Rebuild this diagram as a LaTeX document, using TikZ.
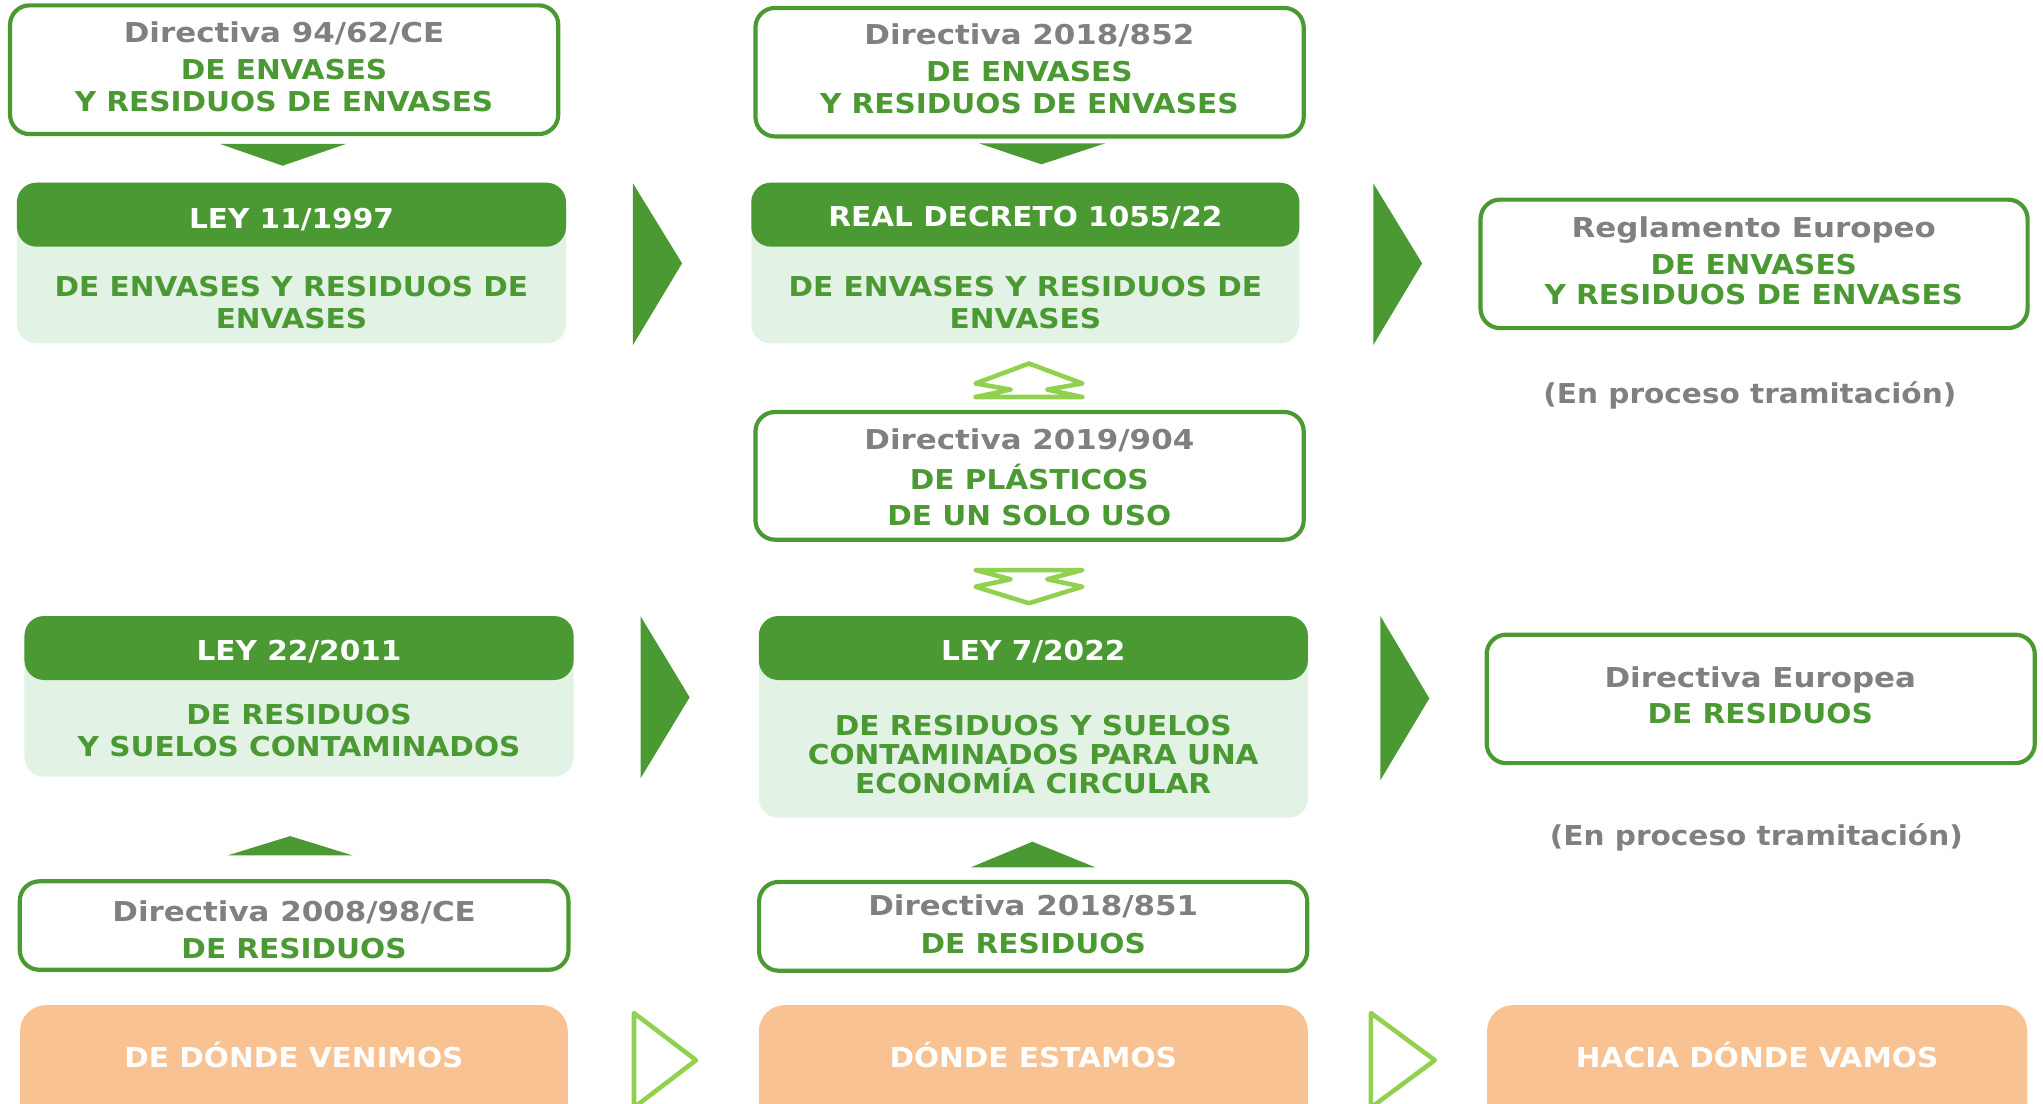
\documentclass[tikz,border=0pt]{standalone}
\usepackage{fontspec}
\newfontfamily\vf{DejaVu Sans Bold}[FakeStretch=1.08]
\newfontfamily\gf{DejaVu Sans Bold}[FakeStretch=1.13]
\definecolor{dgreen}{RGB}{74,153,50}
\definecolor{lbody}{RGB}{226,242,228}
\definecolor{lgreen}{RGB}{146,208,80}
\definecolor{tgray}{RGB}{128,128,128}
\definecolor{obox}{RGB}{249,194,147}
\begin{document}
\begin{tikzpicture}[x=1pt,y=-1pt,
  wbox/.style={draw=dgreen, line width=3.2pt, rounded corners=15pt, fill=white, inner sep=0pt, outer sep=0pt},
  bodybox/.style={fill=lbody, rounded corners=15pt, inner sep=0pt, outer sep=0pt},
  headbox/.style={fill=dgreen, rounded corners=15pt, inner sep=0pt, outer sep=0pt},
  orbox/.style={fill=obox, rounded corners=20pt, inner sep=0pt, outer sep=0pt},
  txt/.style={font=\vf\fontsize{21}{24}\selectfont, anchor=base, inner sep=0pt},
  gt/.style={txt, font=\gf\fontsize{21}{24}\selectfont, text=tgray},
  pt/.style={txt, text=tgray},
  vt/.style={txt, text=dgreen},
  wt/.style={txt, text=white},
  solidtri/.style={fill=dgreen},
  hollow/.style={draw=lgreen, line width=3.5pt, line join=round}
]
\useasboundingbox (0,0) rectangle (1568,846.6);
\clip (0,0) rectangle (1568,846.6);

% ---------- white bordered boxes ----------
\node[wbox, minimum width=420.8pt, minimum height=98.8pt] (A) at (218.1,53.5) {};
\node[wbox, minimum width=420.8pt, minimum height=98.6pt] (B) at (790.2,55.4) {};
\node[wbox, minimum width=419.9pt, minimum height=98.6pt] (R) at (1346.25,202.5) {};
\node[wbox, minimum width=420.8pt, minimum height=98pt] (P) at (790.2,365.2) {};
\node[wbox, minimum width=420.7pt, minimum height=98.6pt] (E) at (1351.35,536.4) {};
\node[wbox, minimum width=421.1pt, minimum height=67.9pt] (C) at (225.75,710.35) {};
\node[wbox, minimum width=420.7pt, minimum height=68.1pt] (D) at (792.95,710.95) {};

% ---------- law boxes ----------
\node[bodybox, minimum width=421.4pt, minimum height=123.3pt] (L1) at (223.7,201.85) {};
\node[headbox, minimum width=421.4pt, minimum height=49.1pt] (L1h) at (223.7,164.75) {};
\node[bodybox, minimum width=420.7pt, minimum height=123.3pt] (RD) at (786.95,201.85) {};
\node[headbox, minimum width=420.7pt, minimum height=49.1pt] (RDh) at (786.95,164.75) {};
\node[bodybox, minimum width=421.4pt, minimum height=123.3pt] (L22) at (229.5,534.45) {};
\node[headbox, minimum width=421.4pt, minimum height=49.1pt] (L22h) at (229.5,497.35) {};
\node[bodybox, minimum width=421.4pt, minimum height=154.8pt] (L7) at (793.1,550.2) {};
\node[headbox, minimum width=421.4pt, minimum height=49.1pt] (L7h) at (793.1,497.35) {};

% ---------- orange boxes ----------
\node[orbox, minimum width=420.4pt, minimum height=108.6pt] (O1) at (225.6,825.7) {};
\node[orbox, minimum width=421.4pt, minimum height=108.6pt] (O2) at (793.1,825.7) {};
\node[orbox, minimum width=414.6pt, minimum height=108.6pt] (O3) at (1348.6,825.7) {};

% ---------- texts ----------
\node[gt] (A1) at (218,32.8) {Directiva 94/62/CE};
\node[vt] (A2) at (218,60.9) {DE ENVASES};
\node[vt] (A3) at (218,85.7) {Y RESIDUOS DE ENVASES};

\node[gt] (B1) at (790,34) {Directiva 2018/852};
\node[vt] (B2) at (790,62.7) {DE ENVASES};
\node[vt] (B3) at (790,87) {Y RESIDUOS DE ENVASES};

\node[wt] (L1a) at (223.7,175) {LEY 11/1997};
\node[vt] (L1b) at (223.7,227.7) {DE ENVASES Y RESIDUOS DE};
\node[vt] (L1c) at (223.7,252) {ENVASES};

\node[wt] (RDa) at (787,174) {REAL DECRETO 1055/22};
\node[vt] (RDb) at (787,227.7) {DE ENVASES Y RESIDUOS DE};
\node[vt] (RDc) at (787,252) {ENVASES};

\node[gt] (R1) at (1346,182.2) {Reglamento Europeo};
\node[vt] (R2) at (1346,210.3) {DE ENVASES};
\node[vt] (R3) at (1346,234) {Y RESIDUOS DE ENVASES};
\node[pt] (R4) at (1343,309.5) {(En proceso tramitación)};

\node[gt] (P1) at (790,344.9) {Directiva 2019/904};
\node[vt] (P2) at (790,375.4) {DE PLÁSTICOS};
\node[vt] (P3) at (790,403.5) {DE UN SOLO USO};

\node[wt] (L22a) at (229.5,507.2) {LEY 22/2011};
\node[vt] (L22b) at (229.5,555.8) {DE RESIDUOS};
\node[vt] (L22c) at (229.5,580.4) {Y SUELOS CONTAMINADOS};

\node[wt] (L7a) at (793,507.2) {LEY 7/2022};
\node[vt] (L7b) at (793,564.8) {DE RESIDUOS Y SUELOS};
\node[vt] (L7c) at (793,586.8) {CONTAMINADOS PARA UNA};
\node[vt] (L7d) at (793,609) {ECONOMÍA CIRCULAR};

\node[gt] (E1) at (1351,527.3) {Directiva Europea};
\node[vt] (E2) at (1351,555.3) {DE RESIDUOS};
\node[pt] (E3) at (1348,648.8) {(En proceso tramitación)};

\node[gt] (C1) at (225.7,707) {Directiva 2008/98/CE};
\node[vt] (C2) at (225.7,736) {DE RESIDUOS};

\node[gt] (D1) at (793,702.5) {Directiva 2018/851};
\node[vt] (D2) at (793,731.9) {DE RESIDUOS};

\node[wt] (O1t) at (225.6,819.4) {DE DÓNDE VENIMOS};
\node[wt] (O2t) at (793,819.4) {DÓNDE ESTAMOS};
\node[wt] (O3t) at (1348.6,819.4) {HACIA DÓNDE VAMOS};

% ---------- solid small triangles ----------
\fill[solidtri] (169,110.5) -- (265.5,110.5) -- (216.9,127.2) -- cycle;
\fill[solidtri] (751.3,110) -- (848.3,110) -- (799.3,126.1) -- cycle;
\fill[solidtri] (174.7,656.5) -- (270.6,656.5) -- (222.7,641.7) -- cycle;
\fill[solidtri] (745.1,665.7) -- (840.7,665.7) -- (792.4,646) -- cycle;

% ---------- big solid right triangles ----------
\fill[solidtri] (485.8,140.7) -- (523.5,202.1) -- (485.8,264.8) -- cycle;
\fill[solidtri] (1054,140.7) -- (1091.5,202.1) -- (1054,264.8) -- cycle;
\fill[solidtri] (491.6,472.9) -- (529.3,535.2) -- (491.6,597.4) -- cycle;
\fill[solidtri] (1059.5,472.9) -- (1097,536) -- (1059.5,598.7) -- cycle;

% ---------- hollow arrows ----------
\draw[hollow] (789.7,279) -- (830.7,294.3) -- (803.7,299) -- (830.7,304.7) -- (748.7,304.7) -- (775.7,299) -- (748.7,294.3) -- cycle;
\draw[hollow] (748.7,437.5) -- (830.7,437.5) -- (803.7,444.6) -- (830.7,450.3) -- (789.7,463) -- (748.7,450.3) -- (775.7,444.6) -- cycle;
\draw[hollow] (486.6,777.5) -- (534.2,813.7) -- (486.6,850) -- cycle;
\draw[hollow] (1052.2,777.5) -- (1101.2,813.7) -- (1052.2,850) -- cycle;
\end{tikzpicture}
\end{document}
